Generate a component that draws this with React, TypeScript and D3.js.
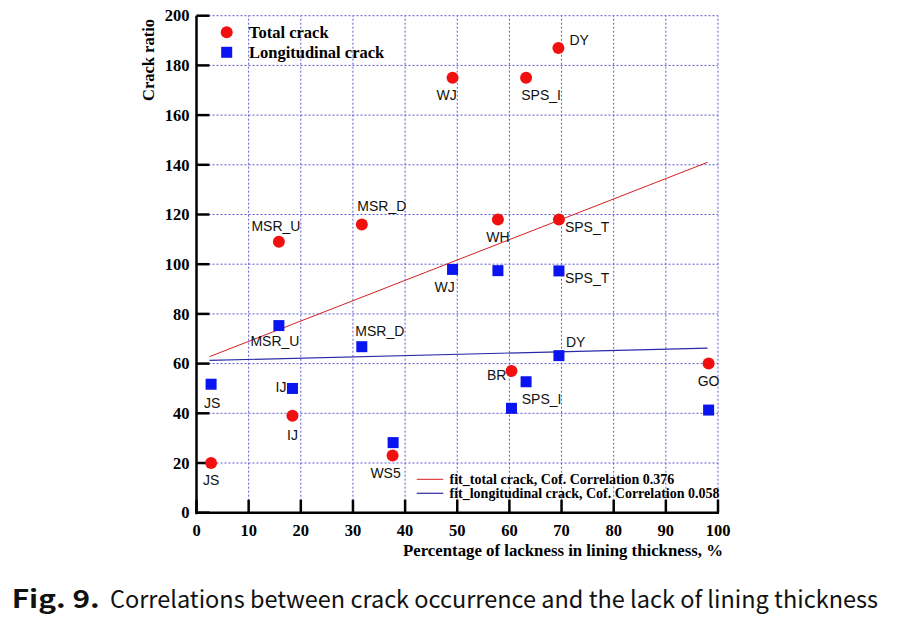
import React from "react";
import * as d3 from "d3";

// ---- data ----
const totalNames = ["JS", "IJ", "MSR_U", "MSR_D", "WS5", "WJ", "SPS_I", "DY", "WH", "SPS_T", "BR", "GO"];
const totalX = [2.8, 18.4, 15.8, 31.7, 37.6, 49.1, 63.2, 69.4, 57.8, 69.5, 60.4, 98.2];
const totalY = [20, 39, 109, 116, 23, 175, 175, 187, 118, 118, 57, 60];

const longNames = ["JS", "IJ", "MSR_U", "MSR_D", "", "WJ", "", "SPS_T", "DY", "SPS_I", "", ""];
const longX = [2.8, 18.4, 15.8, 31.7, 37.7, 49.1, 57.8, 69.5, 69.5, 63.2, 60.4, 98.2];
const longY = [51.7, 50, 75.3, 66.8, 28.2, 97.9, 97.4, 97.3, 63.2, 52.7, 42, 41.3];

const fitTotalX = [2.5, 98];
const fitTotalY = [62.8, 141];
const fitLongX = [2.5, 98];
const fitLongY = [61.3, 66.2];

const xTicks = [0, 10, 20, 30, 40, 50, 60, 70, 80, 90, 100];
const yTicks = [0, 20, 40, 60, 80, 100, 120, 140, 160, 180, 200];

// label placement (pixel offsets from the marker, text anchor)
const totalLabelPos: [number, number, string][] = [
  [0, 22, "middle"], [0, 24, "middle"], [-3, -11, "middle"], [20, -13, "middle"],
  [-7, 22, "middle"], [-6, 22, "middle"], [15, 22, "middle"], [11, -3, "start"],
  [0, 23, "middle"], [6, 13, "start"], [-5, 9, "end"], [0, 22, "middle"],
];
const longLabelPos: [number, number, string][] = [
  [1, 24, "middle"], [-6, 4, "end"], [-4, 20, "middle"], [18, -11, "middle"],
  [0, 0, "middle"], [-8, 23, "middle"], [0, 0, "middle"], [6, 12, "start"],
  [7, -9, "start"], [15.5, 22, "middle"], [0, 0, "middle"], [0, 0, "middle"],
];

const W = 898;
const H = 617;

export default function App() {
  const x = d3.scaleLinear().domain([0, 100]).range([196.5, 718]);
  const y = d3.scaleLinear().domain([0, 200]).range([512.7, 15.7]);
  const line = d3
    .line<[number, number]>()
    .x((d) => x(d[0]))
    .y((d) => y(d[1]));
  const fitT = line(fitTotalX.map((v, i) => [v, fitTotalY[i]]));
  const fitL = line(fitLongX.map((v, i) => [v, fitLongY[i]]));
  const serif = "'Liberation Serif', 'Times New Roman', serif";
  const sans = "'Liberation Sans', Arial, sans-serif";
  const capFont = "'Noto Sans CJK KR', 'Noto Sans', sans-serif";
  const grid = "#5a5ad0";
  const sq = 11;

  return (
    <svg
      width={W}
      height={H}
      style={{ position: "absolute", left: 0, top: 0, background: "#fff" }}
    >
      <rect x={0} y={0} width={W} height={H} fill="#fff" />
      {/* grid */}
      {yTicks.filter((t) => t > 0).map((t) => (
        <line key={"gy" + t} x1={x(0)} x2={x(100)} y1={y(t)} y2={y(t)}
          stroke={grid} strokeWidth={1} strokeDasharray="2,2" />
      ))}
      {xTicks.filter((t) => t > 0).map((t) => (
        <line key={"gx" + t} x1={x(t)} x2={x(t)} y1={y(0)} y2={y(200)}
          stroke={grid} strokeWidth={1} strokeDasharray="2,2" />
      ))}
      {/* fit lines */}
      <path d={fitT || ""} fill="none" stroke="#d42020" strokeWidth={1} />
      <path d={fitL || ""} fill="none" stroke="#2a2aa8" strokeWidth={1.2} />
      {/* axes */}
      <line x1={x(0)} x2={x(0)} y1={y(200)} y2={y(0) + 1.5} stroke="#000" strokeWidth={2.5} />
      <line x1={x(0) - 1.2} x2={x(100) + 1} y1={y(0)} y2={y(0)} stroke="#000" strokeWidth={2.5} />
      {yTicks.map((t) => (
        <g key={"ty" + t}>
          <line x1={x(0)} x2={x(0) + 13} y1={y(t)} y2={y(t)} stroke="#000" strokeWidth={2.5} />
          <text x={x(0) - 7} y={y(t)} dy="0.35em" textAnchor="end" fontFamily={serif}
            fontWeight="bold" fontSize={16.5}>{t}</text>
        </g>
      ))}
      {xTicks.map((t) => (
        <g key={"tx" + t}>
          <line x1={x(t)} x2={x(t)} y1={y(0)} y2={y(0) - 13} stroke="#000" strokeWidth={2.5} />
          <text x={x(t)} y={536} textAnchor="middle" fontFamily={serif}
            fontWeight="bold" fontSize={16.5}>{t}</text>
        </g>
      ))}
      {/* axis titles */}
      <text transform="translate(154,60) rotate(-90)" textAnchor="middle" fontFamily={serif}
        fontWeight="bold" fontSize={16.5}>Crack ratio</text>
      <text x={563} y={556} textAnchor="middle" fontFamily={serif} fontWeight="bold"
        fontSize={16.8}>Percentage of lackness in lining thickness, %</text>

      {/* longitudinal squares */}
      {longX.map((v, i) => (
        <rect key={"ls" + i} x={x(v) - sq / 2} y={y(longY[i]) - sq / 2} width={sq} height={sq}
          fill="#0a14f0" />
      ))}
      {/* total circles */}
      {totalX.map((v, i) => (
        <circle key={"tc" + i} cx={x(v)} cy={y(totalY[i])} r={6} fill="#f01010" />
      ))}
      {/* labels */}
      {totalNames.map((n, i) => (
        <text key={"tl" + i} x={x(totalX[i]) + totalLabelPos[i][0]} y={y(totalY[i]) + totalLabelPos[i][1]}
          textAnchor={totalLabelPos[i][2] as any} fontFamily={sans} fontSize={14} fill="#111">{n}</text>
      ))}
      {longNames.map((n, i) =>
        n ? (
          <text key={"ll" + i} x={x(longX[i]) + longLabelPos[i][0]} y={y(longY[i]) + longLabelPos[i][1]}
            textAnchor={longLabelPos[i][2] as any} fontFamily={sans} fontSize={14} fill="#111">{n}</text>
        ) : null
      )}

      {/* top-left legend */}
      <circle cx={226.7} cy={32.3} r={6} fill="#f01010" />
      <rect x={226.7 - sq / 2} y={52.3 - sq / 2} width={sq} height={sq} fill="#0a14f0" />
      <text x={249} y={37.5} fontFamily={serif} fontWeight="bold" fontSize={16.5}>Total crack</text>
      <text x={249} y={57.5} fontFamily={serif} fontWeight="bold" fontSize={16.5}>Longitudinal crack</text>

      {/* bottom-right legend */}
      <line x1={416.7} x2={443.3} y1={479.3} y2={479.3} stroke="#d42020" strokeWidth={1} />
      <line x1={416.7} x2={443.3} y1={493.3} y2={493.3} stroke="#2a2aa8" strokeWidth={1.2} />
      <text x={449.5} y={483.8} fontFamily={serif} fontWeight="bold" fontSize={14}>fit_total crack, Cof. Correlation 0.376</text>
      <text x={449.5} y={497.8} fontFamily={serif} fontWeight="bold" fontSize={14}>fit_longitudinal crack, Cof. Correlation 0.058</text>

      {/* caption */}
      <text x={11.7} y={608.3} fontFamily={capFont} fontSize={25} fontWeight="bold" fill="#111"
        textLength={88} lengthAdjust="spacingAndGlyphs">Fig. 9.</text>
      <text x={110} y={608.3} fontFamily={capFont} fontSize={23.6} fill="#111"
        textLength={768} lengthAdjust="spacingAndGlyphs">Correlations between crack occurrence and the lack of lining thickness</text>
    </svg>
  );
}
